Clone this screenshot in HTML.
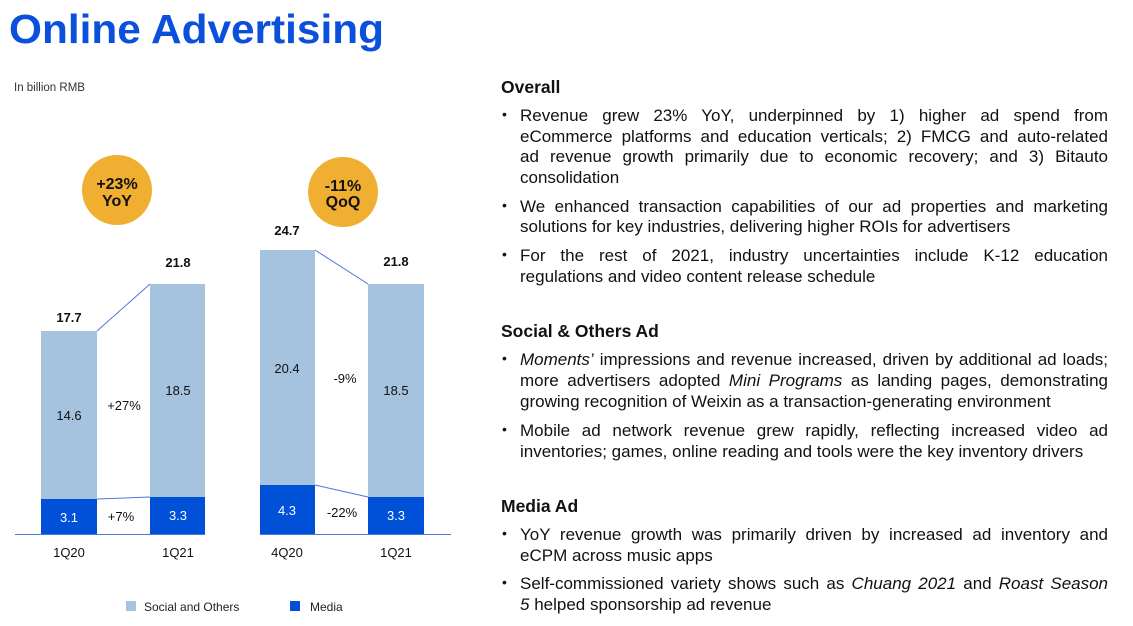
<!DOCTYPE html>
<html><head><meta charset="utf-8"><style>
body{margin:0;background:#fff;position:relative;width:1133px;height:626px;overflow:hidden;}
svg{display:block;font-family:"Liberation Sans",Arial,sans-serif;position:absolute;left:0;top:0;}
.v{font-size:13px;fill:#111;text-anchor:middle;}
.vb{font-size:13px;font-weight:bold;fill:#111;text-anchor:middle;}
.w{font-size:13px;fill:#fff;text-anchor:middle;}
.l{position:absolute;left:520px;width:588px;font-family:"Liberation Sans",Arial,sans-serif;font-size:17px;color:#111;white-space:nowrap;line-height:20px;}
.j{text-align:justify;text-align-last:justify;white-space:normal;}
.d{position:absolute;left:502px;font-family:"Liberation Sans",Arial,sans-serif;font-size:14px;color:#111;line-height:20px;}
.h{position:absolute;left:501px;font-family:"Liberation Sans",Arial,sans-serif;font-size:17.5px;font-weight:bold;color:#111;line-height:20px;}
</style></head><body>
<svg width="1133" height="626" viewBox="0 0 1133 626">
<text x="9" y="43" font-size="41" font-weight="bold" fill="#0a50dc" textLength="375" lengthAdjust="spacingAndGlyphs">Online Advertising</text>
<text x="14" y="91" font-size="11.5" fill="#333">In billion RMB</text>
<circle cx="117" cy="190" r="35" fill="#f0af30"/>
<text x="117" y="189" class="vb" style="font-size:16px">+23%</text>
<text x="117" y="206" class="vb" style="font-size:16px">YoY</text>
<circle cx="343" cy="192" r="35" fill="#f0af30"/>
<text x="343" y="191" class="vb" style="font-size:16px">-11%</text>
<text x="343" y="207" class="vb" style="font-size:16px">QoQ</text>
<rect x="41" y="331" width="56" height="168" fill="#a5c2df"/>
<rect x="41" y="499" width="56" height="35" fill="#0050d8"/>
<rect x="150" y="284" width="55" height="213" fill="#a5c2df"/>
<rect x="150" y="497" width="55" height="37" fill="#0050d8"/>
<rect x="260" y="250" width="55" height="235" fill="#a5c2df"/>
<rect x="260" y="485" width="55" height="49" fill="#0050d8"/>
<rect x="368" y="284" width="56" height="213" fill="#a5c2df"/>
<rect x="368" y="497" width="56" height="37" fill="#0050d8"/>
<g stroke="#4a78d8" stroke-width="1">
<line x1="97" y1="331" x2="150" y2="284"/>
<line x1="97" y1="499" x2="150" y2="497"/>
<line x1="315" y1="250" x2="368" y2="284"/>
<line x1="315" y1="485" x2="368" y2="497"/>
<line x1="15" y1="534.5" x2="205" y2="534.5"/>
<line x1="260" y1="534.5" x2="451" y2="534.5"/>
</g>
<text x="69" y="322" class="vb">17.7</text>
<text x="178" y="267" class="vb">21.8</text>
<text x="287" y="235" class="vb">24.7</text>
<text x="396" y="266" class="vb">21.8</text>
<text x="69" y="420" class="v">14.6</text>
<text x="178" y="395" class="v">18.5</text>
<text x="287" y="373" class="v">20.4</text>
<text x="396" y="395" class="v">18.5</text>
<text x="124" y="410" class="v">+27%</text>
<text x="345" y="383" class="v">-9%</text>
<text x="121" y="521" class="v">+7%</text>
<text x="342" y="517" class="v">-22%</text>
<text x="69" y="522" class="w">3.1</text>
<text x="178" y="520" class="w">3.3</text>
<text x="287" y="515" class="w">4.3</text>
<text x="396" y="520" class="w">3.3</text>
<text x="69" y="557" class="v">1Q20</text>
<text x="178" y="557" class="v">1Q21</text>
<text x="287" y="557" class="v">4Q20</text>
<text x="396" y="557" class="v">1Q21</text>
<rect x="126" y="601" width="10" height="10" fill="#a5c2df"/>
<text x="144" y="611" font-size="12" fill="#222">Social and Others</text>
<rect x="290" y="601" width="10" height="10" fill="#0050d8"/>
<text x="310" y="611" font-size="12" fill="#222">Media</text>
</svg>

<div class="h" style="top:77px">Overall</div>
<div class="d" style="top:104px">•</div>
<div class="l j" style="top:106px">Revenue grew 23% YoY, underpinned by 1) higher ad spend from</div>
<div class="l j" style="top:127px">eCommerce platforms and education verticals; 2) FMCG and auto-related</div>
<div class="l j" style="top:147px">ad revenue growth primarily due to economic recovery; and 3) Bitauto</div>
<div class="l" style="top:168px">consolidation</div>
<div class="d" style="top:195px">•</div>
<div class="l j" style="top:197px">We enhanced transaction capabilities of our ad properties and marketing</div>
<div class="l" style="top:217px">solutions for key industries, delivering higher ROIs for advertisers</div>
<div class="d" style="top:244px">•</div>
<div class="l j" style="top:246px">For the rest of 2021, industry uncertainties include K-12 education</div>
<div class="l" style="top:267px">regulations and video content release schedule</div>

<div class="h" style="top:321px">Social &amp; Others Ad</div>
<div class="d" style="top:348px">•</div>
<div class="l j" style="top:350px"><i>Moments’</i> impressions and revenue increased, driven by additional ad loads;</div>
<div class="l j" style="top:371px">more advertisers adopted <i>Mini Programs</i> as landing pages, demonstrating</div>
<div class="l" style="top:392px">growing recognition of Weixin as a transaction-generating environment</div>
<div class="d" style="top:419px">•</div>
<div class="l j" style="top:421px">Mobile ad network revenue grew rapidly, reflecting increased video ad</div>
<div class="l" style="top:442px">inventories; games, online reading and tools were the key inventory drivers</div>

<div class="h" style="top:496px">Media Ad</div>
<div class="d" style="top:523px">•</div>
<div class="l j" style="top:525px">YoY revenue growth was primarily driven by increased ad inventory and</div>
<div class="l" style="top:546px">eCPM across music apps</div>
<div class="d" style="top:572px">•</div>
<div class="l j" style="top:574px">Self-commissioned variety shows such as <i>Chuang 2021</i> and <i>Roast Season</i></div>
<div class="l" style="top:595px"><i>5</i> helped sponsorship ad revenue</div>
</body></html>
